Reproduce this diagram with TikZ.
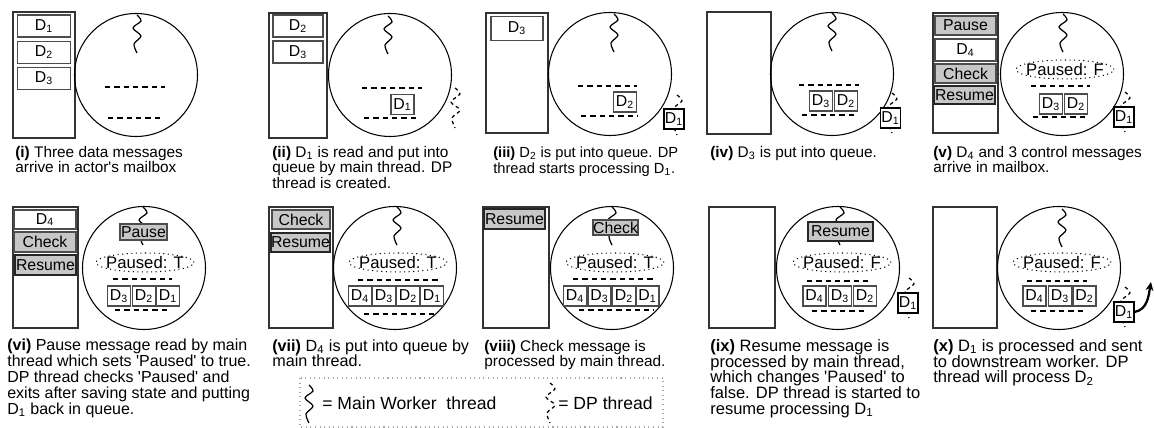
\documentclass[tikz,border=0pt]{standalone}
\usepackage{fontspec}
\setmainfont{Liberation Sans}
\usetikzlibrary{shapes.geometric,arrows.meta}
\newcommand{\Dm}[1]{D\textsubscript{#1}}
\newcommand{\qt}{\textquotesingle}
\tikzset{
  mailbox/.style={draw=black!80,line width=0.8pt},
  actor/.style={draw,line width=0.6pt},
  queue/.style={line width=1.1pt,dash pattern=on 3pt off 2.3pt},
  mthr/.style={line width=0.7pt},
  dpthr/.style={line width=0.7pt,dash pattern=on 2pt off 1.8pt},
  msg/.style={draw=black!70,fill=white,inner sep=0pt,line width=0.6pt,font=\fontsize{9}{9}\selectfont},
  ctl/.style={msg,fill=black!22},
  rsm/.style={ctl,draw=black!85,line width=0.9pt},
  qd/.style={msg,minimum width=0.46cm,minimum height=0.4cm},
  od/.style={msg,draw=black,minimum width=0.4cm,minimum height=0.4cm},
  flag/.style={ellipse,draw,dotted,line width=0.6pt,inner xsep=-3pt,inner ysep=0pt,minimum width=1.96cm,minimum height=0.38cm,font=\fontsize{9.5}{9.5}\selectfont},
  captxt/.style={anchor=north west,align=left,inner sep=0pt,font=\fontsize{#1}{9}\selectfont},
  leg/.style={anchor=west,inner sep=0pt,font=\fontsize{10}{10}\selectfont},
  sent/.style={-{Stealth[length=5pt,width=4.5pt]},line width=1.3pt}
}
\newcommand{\mthread}[1]{\draw[mthr,shift={(#1)}] plot[smooth] coordinates {(0,0)(4,6)(-4,13)(4,21)(-3,29)(0,38)};}
\newcommand{\dpthread}[1]{\draw[dpthr,shift={(#1)}] plot[smooth] coordinates {(0,0)(5,6)(-4,14)(5,22)(-3,30)(0,40)};}
\begin{document}
\begin{tikzpicture}[x=0.02cm,y=-0.02cm]
\useasboundingbox (0,0) rectangle (1154,428);
% (i)
\draw[mailbox] (13,12) rectangle (75,138);
\node[msg,minimum width=1.06cm,minimum height=0.44cm] (mb1a) at (44,26) {\Dm{1}};
\node[msg,minimum width=1.06cm,minimum height=0.44cm] (mb1b) at (44,52.5) {\Dm{2}};
\node[msg,minimum width=1.06cm,minimum height=0.44cm] (mb1c) at (44,78.5) {\Dm{3}};
\draw[actor] (136,75) circle[radius=61.5];
\mthread{137,15}
\draw[queue] (105,87) -- (165,87);
\draw[queue] (108,118) -- (163,118);
\node[captxt=8.75] (cap1) at (15,145.7) {\textbf{(i)} Three data messages\\arrive in actor\qt s mailbox};
% (ii)
\draw[mailbox] (269,13) rectangle (327,138);
\node[msg,minimum width=1cm,minimum height=0.44cm] (mb2a) at (298,26) {\Dm{2}};
\node[msg,minimum width=1cm,minimum height=0.44cm] (mb2b) at (298,52) {\Dm{3}};
\draw[actor] (390,75) circle[radius=61.5];
\mthread{388,16}
\draw[queue] (362,88) -- (422,88);
\draw[queue] (364,118) -- (419,118);
\node[qd] (q2a) at (402.5,104.5) {\Dm{1}};
\dpthread{455,88}
\node[captxt=8.75] (cap2) at (272,145.7) {\textbf{(ii)} \Dm{1} is read and put into\\queue by main thread. DP\\thread is created.};
% (iii)
\draw[mailbox] (486,13) rectangle (548,133);
\node[msg,minimum width=1.04cm,minimum height=0.48cm] (mb3a) at (517,28.5) {\Dm{3}};
\draw[actor] (610,74) circle[radius=61.5];
\mthread{614,14}
\draw[queue] (578,86) -- (637,86);
\draw[queue] (581,116) -- (637,116);
\node[qd] (q3a) at (625,102) {\Dm{2}};
\dpthread{677,95}
\node[od] (o3) at (674,119) {\Dm{1}};
\node[captxt=8.35] (cap3) at (493,146.3) {\textbf{(iii)} \Dm{2} is put into queue. DP\\thread starts processing \Dm{1}.};
% (iv)
\draw[mailbox] (707,12) rectangle (771,134);
\draw[actor] (832,74) circle[radius=61.5];
\mthread{832,13}
\draw[queue] (799,85) -- (859,85);
\draw[queue] (802,115) -- (857,115);
\node[qd] (q4a) at (821,101) {\Dm{3}};
\node[qd] (q4b) at (846,101) {\Dm{2}};
\dpthread{892,93}
\node[od] (o4) at (890.5,118) {\Dm{1}};
\node[captxt=8.75] (cap4) at (710,145.7) {\textbf{(iv)} \Dm{3} is put into queue.};
% (v)
\draw[mailbox] (933,13) rectangle (998,133);
\node[ctl,minimum width=1.22cm,minimum height=0.38cm] (mb5a) at (965.5,25.5) {Pause};
\node[msg,minimum width=1.22cm,minimum height=0.44cm] (mb5b) at (965.5,50) {\Dm{4}};
\node[ctl,minimum width=1.22cm,minimum height=0.38cm] (mb5c) at (965.5,73.5) {Check};
\node[rsm,minimum width=1.22cm,minimum height=0.36cm] (mb5d) at (964.5,95) {Resume};
\draw[actor] (1062,74) circle[radius=61.5];
\mthread{1063,14}
\node[flag] (f5) at (1065,69.5) {Paused: F};
\draw[queue] (1031,86) -- (1090,86);
\draw[queue] (1033,117) -- (1088,117);
\node[qd] (q5a) at (1051,104) {\Dm{3}};
\node[qd] (q5b) at (1076,104) {\Dm{2}};
\dpthread{1125,92}
\node[od] (o5) at (1124,117) {\Dm{1}};
\node[captxt=8.75] (cap5) at (933,145.7) {\textbf{(v)} \Dm{4} and 3 control messages\\arrive in mailbox.};
% (vi)
\draw[mailbox] (13,207) rectangle (78,328);
\node[msg,minimum width=1.24cm,minimum height=0.38cm] (mb6a) at (45,219.5) {\Dm{4}};
\node[ctl,minimum width=1.24cm,minimum height=0.4cm] (mb6b) at (45,242) {Check};
\node[rsm,minimum width=1.22cm,minimum height=0.4cm] (mb6c) at (45.5,265) {Resume};
\draw[actor] (144,268) circle[radius=61.5];
\mthread{143,207}
\node[ctl,minimum width=0.94cm,minimum height=0.32cm] (c6) at (143.5,232) {Pause};
\node[flag] (f6) at (145,262.5) {Paused: T};
\draw[queue] (113,279) -- (172,279);
\draw[queue] (115,310) -- (170,310);
\node[qd] (q6a) at (119,296) {\Dm{3}};
\node[qd] (q6b) at (144,296) {\Dm{2}};
\node[qd] (q6c) at (168,296) {\Dm{1}};
\node[captxt=9.1] (cap6) at (7,339) {\textbf{(vi)} Pause message read by main\\thread which sets \qt Paused\qt{} to true.\\DP thread checks \qt Paused\qt{} and\\exits after saving state and putting\\\Dm{1} back in queue.};
% (vii)
\draw[mailbox] (269,207) rectangle (333,328);
\node[ctl,minimum width=1.16cm,minimum height=0.38cm] (mb7a) at (301,219.5) {Check};
\node[rsm,minimum width=1.18cm,minimum height=0.38cm] (mb7b) at (300.5,242.5) {Resume};
\draw[actor] (395,268) circle[radius=61.5];
\mthread{397,207}
\node[flag] (f7) at (398,262.5) {Paused: T};
\draw[queue] (358,280) -- (440,280);
\draw[queue] (364,314) -- (437,314);
\node[qd] (q7a) at (360,296) {\Dm{4}};
\node[qd] (q7b) at (384,296) {\Dm{3}};
\node[qd] (q7c) at (408,296) {\Dm{2}};
\node[qd] (q7d) at (432,296) {\Dm{1}};
\node[captxt=9.2] (cap7) at (272,339) {\textbf{(vii)} \Dm{4} is put into queue by\\main thread.};
% (viii)
\draw[mailbox] (483,207) rectangle (549,328);
\node[rsm,minimum width=1.22cm,minimum height=0.4cm] (mb8a) at (514.5,219) {Resume};
\draw[actor] (612,268) circle[radius=61.5];
\mthread{612,207}
\node[ctl,minimum width=0.9cm,minimum height=0.3cm] (c8) at (615.5,227.5) {Check};
\node[flag] (f8) at (615,262.5) {Paused: T};
\draw[queue] (573,279) -- (655,279);
\draw[queue] (579,310) -- (654,310);
\node[qd] (q8a) at (575,296) {\Dm{4}};
\node[qd] (q8b) at (599.5,296) {\Dm{3}};
\node[qd] (q8c) at (624,296) {\Dm{2}};
\node[qd] (q8d) at (647.5,296) {\Dm{1}};
\node[captxt=8.75] (cap8) at (484,339.7) {\textbf{(viii)} Check message is\\processed by main thread.};
% (ix)
\draw[mailbox] (709,207) rectangle (775,328);
\draw[actor] (838,268) circle[radius=61.5];
\mthread{840,207}
\node[rsm,minimum width=1.3cm,minimum height=0.38cm] (c9) at (840.5,231.5) {Resume};
\node[flag] (f9) at (842,262.5) {Paused: F};
\draw[queue] (807,281) -- (868,281);
\draw[queue] (812,311) -- (866,311);
\node[qd] (q9a) at (814.5,296) {\Dm{4}};
\node[qd] (q9b) at (840,296) {\Dm{3}};
\node[qd] (q9c) at (865,296) {\Dm{2}};
\dpthread{909,278}
\node[od] (o9) at (908,303) {\Dm{1}};
\node[captxt=9.4] (cap9) at (710,338.9) {\textbf{(ix)} Resume message is\\processed by main thread,\\which changes \qt Paused\qt{} to\\false. DP thread is started to\\resume processing \Dm{1}};
% (x)
\draw[mailbox] (933,207) rectangle (997,328);
\draw[actor] (1059,268) circle[radius=61.5];
\mthread{1062,209}
\node[flag] (f10) at (1062,262.5) {Paused: F};
\draw[queue] (1027,281) -- (1087,281);
\draw[queue] (1031,311) -- (1086,311);
\node[qd] (q10a) at (1034.5,296) {\Dm{4}};
\node[qd] (q10b) at (1060,296) {\Dm{3}};
\node[qd] (q10c) at (1084.5,296) {\Dm{2}};
\dpthread{1125,287}
\node[od] (o10) at (1124,312) {\Dm{1}};
\coordinate (out) at (1151,282);
\draw[sent] (o10.east) to[out=10,in=-100] (out);
\node[captxt=9.4] (cap10) at (933,338.9) {\textbf{(x)} \Dm{1} is processed and sent\\to downstream worker. DP\\thread will process \Dm{2}};
% legend
\draw[draw=black!35,dotted,line width=0.6pt] (300,378) rectangle (663,427);
\mthread{309,385}
\node[leg] (l1) at (322,403) {= Main Worker\ \ thread};
\dpthread{550,383}
\node[leg] (l2) at (558,403) {= DP thread};
\end{tikzpicture}
\end{document}
